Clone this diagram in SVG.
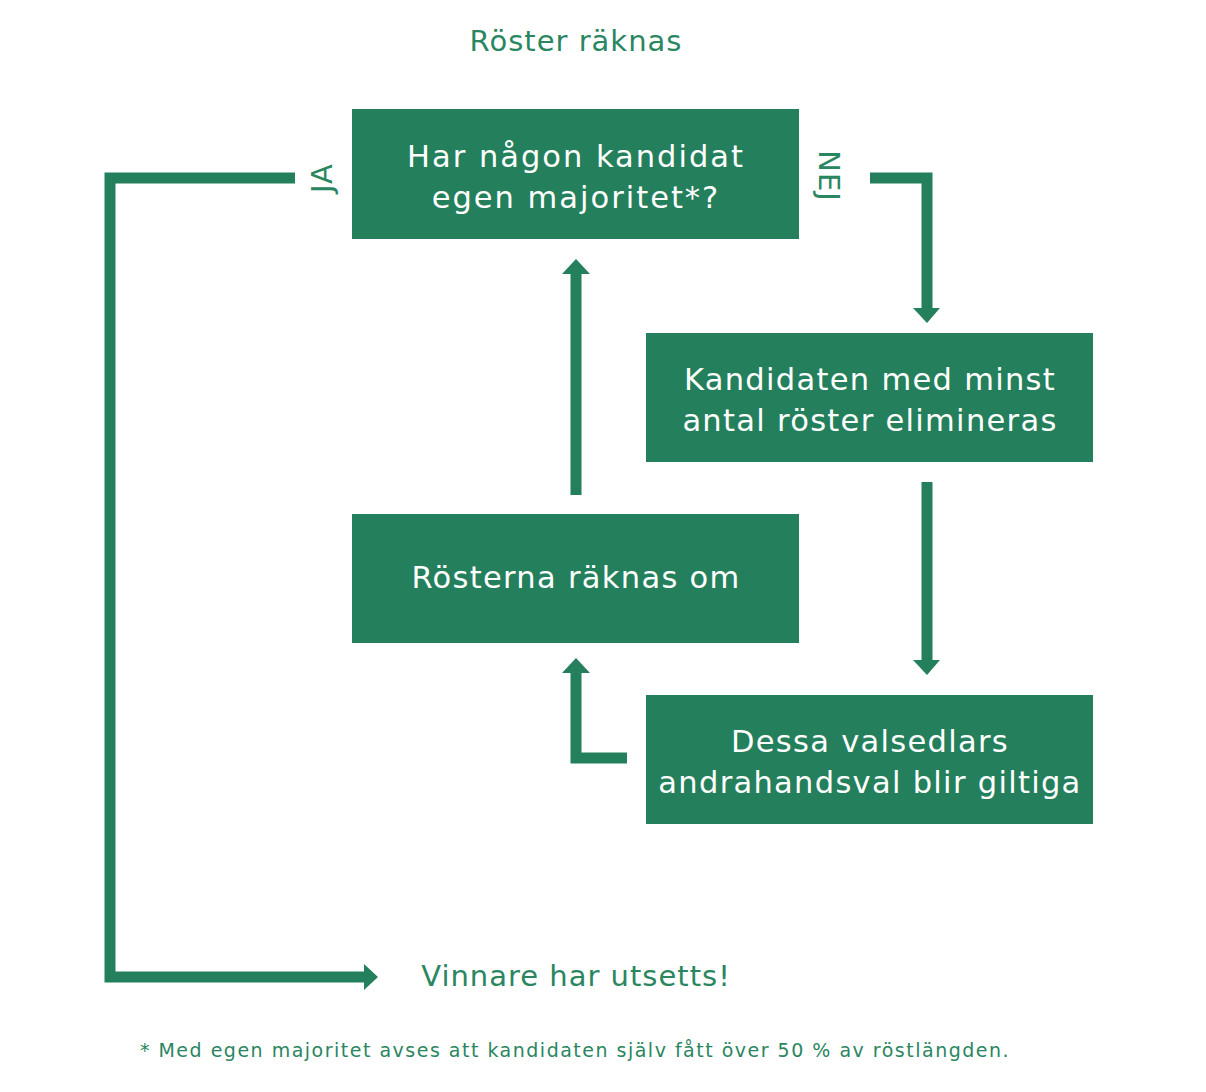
<svg xmlns="http://www.w3.org/2000/svg" width="1206" height="1092" viewBox="0 0 1206 1092">
<defs>
<style>
.box{fill:#247f5c;}
.bt{fill:#ffffff;font-family:"DejaVu Sans",sans-serif;font-size:30.5px;text-anchor:middle;letter-spacing:1.3px;}
.bt.wide{letter-spacing:2px;}
.lbl{fill:#2a8660;font-family:"DejaVu Sans",sans-serif;font-size:29px;text-anchor:middle;letter-spacing:1px;}
.conn{fill:none;stroke:#247f5c;stroke-width:11;}
.head{fill:#247f5c;}
</style>
</defs>
<rect width="1206" height="1092" fill="#ffffff"/>
<text class="lbl" x="576" y="51">Röster räknas</text>
<g id="node-majoritet">
<rect class="box" x="352" y="109" width="447" height="130"/>
<text class="bt wide" x="576" y="167">Har någon kandidat</text>
<text class="bt wide" x="576" y="208">egen majoritet*?</text>
</g>
<g id="node-eliminera">
<rect class="box" x="646" y="333" width="447" height="129"/>
<text class="bt" x="870" y="390">Kandidaten med minst</text>
<text class="bt" x="870" y="431">antal röster elimineras</text>
</g>
<g id="node-rakna-om">
<rect class="box" x="352" y="514" width="447" height="129"/>
<text class="bt" x="576" y="588">Rösterna räknas om</text>
</g>
<g id="node-andrahand">
<rect class="box" x="646" y="695" width="447" height="129"/>
<text class="bt" x="870" y="752">Dessa valsedlars</text>
<text class="bt" x="870" y="793">andrahandsval blir giltiga</text>
</g>
<g id="node-vinnare">
<text class="lbl" x="576" y="986">Vinnare har utsetts!</text>
</g>
<g id="connectors">
<polyline class="conn" points="295,178 110,178 110,977 366,977"/>
<polygon class="head" points="364,964 378,977 364,990"/>
<text class="lbl" transform="translate(332,178) rotate(-90)" font-size="25">JA</text>
<polyline class="conn" points="870,178 927,178 927,310"/>
<polygon class="head" points="913,308 940,308 927,323"/>
<text class="lbl" transform="translate(819,176) rotate(90)" font-size="25">NEJ</text>
<line class="conn" x1="927" y1="482" x2="927" y2="662"/>
<polygon class="head" points="913,660 940,660 927,675"/>
<line class="conn" x1="576" y1="495" x2="576" y2="272"/>
<polygon class="head" points="562,274 590,274 576,259"/>
<polyline class="conn" points="627,758 576,758 576,671"/>
<polygon class="head" points="562,673 590,673 576,658"/>
</g>
<text x="575" y="1057" fill="#2a8660" font-family="'DejaVu Sans',sans-serif" font-size="19" letter-spacing="1.5" text-anchor="middle">* Med egen majoritet avses att kandidaten själv fått över 50 % av röstlängden.</text>
</svg>
